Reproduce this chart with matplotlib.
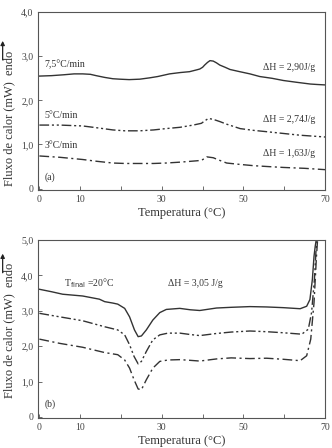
import matplotlib
matplotlib.use('Agg')
import matplotlib.pyplot as plt
from matplotlib.patches import FancyArrowPatch
from matplotlib.ticker import FixedLocator, FixedFormatter

plt.rcParams['font.family'] = ['Liberation Serif', 'DejaVu Serif']

# panel (a): heating-rate curves
ta = [0, 3, 6, 8.5, 10.6, 12.5, 13.9, 16, 18, 19.7, 22, 24.6, 27, 29, 31.9, 34.5, 36.8, 38.5, 39.3,
      40, 40.5, 41.2, 41.8, 42.6, 43.4, 44.2, 45.5, 46.7, 49.1, 51.6, 54, 57, 59.8, 63, 66.4, 68, 70]
a_75 = [2.55, 2.56, 2.58, 2.60, 2.60, 2.59, 2.56, 2.52, 2.49, 2.48, 2.47, 2.48, 2.51, 2.54, 2.60,
        2.63, 2.65, 2.69, 2.71, 2.75, 2.80, 2.86, 2.90, 2.89, 2.85, 2.80, 2.75, 2.70, 2.65, 2.60,
        2.54, 2.50, 2.45, 2.41, 2.37, 2.36, 2.35]
t5 = [0, 5, 10.6, 14, 18, 21, 24.6, 28, 31, 34.5, 37.7, 39.7, 40.6, 41.4, 42.6, 44.2, 45.9, 49.2,
      52.5, 55.7, 59.8, 63.9, 67, 70]
a_5 = [1.44, 1.44, 1.42, 1.38, 1.33, 1.31, 1.31, 1.33, 1.36, 1.39, 1.44, 1.48, 1.54, 1.59, 1.57,
       1.52, 1.46, 1.36, 1.32, 1.29, 1.25, 1.21, 1.19, 1.17]
t3 = [0, 5, 10.6, 14, 18, 21, 24.6, 28, 31, 34.5, 38.5, 39.7, 40.4, 41, 42.6, 44.2, 45.9, 49,
      52.5, 56, 59.8, 65, 70]
a_3 = [0.74, 0.71, 0.66, 0.62, 0.58, 0.57, 0.57, 0.57, 0.58, 0.60, 0.63, 0.64, 0.68, 0.72, 0.70,
       0.64, 0.58, 0.55, 0.52, 0.50, 0.48, 0.46, 0.43]

# panel (b): T_final = 20 C
tb1 = [0, 3, 5.7, 10.6, 14.7, 16, 18, 19.2, 20.9, 22.1, 23.3, 24.2, 25, 26.2, 27.8, 29.5, 31.1,
       34.4, 37, 39.3, 43.4, 47, 51.6, 55.7, 59.8, 63.9, 65.5, 66.3, 66.9, 67.3, 67.6, 67.9]
b1 = [3.61, 3.54, 3.47, 3.42, 3.33, 3.26, 3.22, 3.19, 3.07, 2.83, 2.46, 2.27, 2.29, 2.46, 2.74,
      2.95, 3.04, 3.07, 3.03, 3.01, 3.08, 3.10, 3.12, 3.11, 3.09, 3.06, 3.13, 3.32, 3.89, 4.54,
      4.83, 5.05]
tb2 = [0, 5, 10.6, 16, 19.2, 20.9, 22.1, 23.2, 24.2, 25, 26.2, 27.8, 29.5, 31.5, 34.4, 37, 39.3,
       43.4, 47, 51.6, 55.7, 59.8, 64.3, 65.9, 66.7, 67.4, 67.8, 68.1]
b2 = [2.93, 2.83, 2.72, 2.55, 2.46, 2.32, 2.04, 1.71, 1.50, 1.57, 1.85, 2.18, 2.32, 2.37, 2.37,
      2.33, 2.30, 2.36, 2.40, 2.43, 2.41, 2.38, 2.34, 2.48, 2.95, 3.89, 4.73, 5.05]
tb3 = [0, 5, 10.6, 16, 19.2, 20.9, 22.1, 23.2, 24.2, 25, 26.2, 27.8, 29.5, 31.5, 34.4, 37, 39.3,
       43.4, 47, 51.6, 55.7, 59.8, 63.9, 65.5, 66.5, 67.3, 67.9, 68.2]
b3 = [2.20, 2.08, 1.97, 1.82, 1.76, 1.61, 1.38, 1.05, 0.79, 0.77, 1.05, 1.38, 1.57, 1.61, 1.62,
      1.60, 1.58, 1.64, 1.67, 1.65, 1.66, 1.63, 1.59, 1.73, 2.20, 3.23, 4.54, 5.05]

xticks = [0, 10, 20, 30, 40, 50, 60, 70]
xlabels = ['0', '10', '', '30', '', '50', '', '70']

lc = '#333333'
dd = (0, (7, 2, 1.5, 2, 1.5, 2))
dash_dot = (0, (7, 2.5, 1.5, 2.5))

fig = plt.figure(figsize=(3.32, 4.48), dpi=100)
ax1 = fig.add_axes([0.115, 0.576, 0.864, 0.397])
ax2 = fig.add_axes([0.115, 0.067, 0.864, 0.397])

for ax in (ax1, ax2):
    ax.set_xlim(-0.3, 70)
    ax.xaxis.set_major_locator(FixedLocator(xticks))
    ax.xaxis.set_major_formatter(FixedFormatter(xlabels))
    ax.tick_params(direction='in', length=3, width=0.6, labelsize=7, colors='#555555', labelcolor='#444444')
    for s in ax.spines.values():
        s.set_color('#555555')
        s.set_linewidth(0.8)
    ax.set_xlabel('Temperatura (°C)', fontsize=9, color='#333333', labelpad=2)

ax1.plot(ta, a_75, color=lc, lw=1.0)
ax1.plot(t5, a_5, color=lc, lw=1.0, linestyle=dd)
ax1.plot(t3, a_3, color=lc, lw=1.0, linestyle=dash_dot)
ax1.set_ylim(-0.03, 4.0)
ax1.set_yticks([0, 1, 2, 3, 4])
ax1.set_yticklabels(['0', '1,0', '2,0', '3,0', '4,0'])
ax1.text(1.2, 2.76, '7,5°C/min', fontsize=7, color='#333333')
ax1.text(1.2, 1.61, '5°C/min', fontsize=7, color='#333333')
ax1.text(1.2, 0.92, '3°C/min', fontsize=7, color='#333333')
ax1.text(67.5, 2.69, 'ΔH = 2,90J/g', fontsize=7, color='#333333', ha='right')
ax1.text(67.5, 1.50, 'ΔH = 2,74J/g', fontsize=7, color='#333333', ha='right')
ax1.text(67.5, 0.74, 'ΔH = 1,63J/g', fontsize=7, color='#333333', ha='right')
ax1.text(1.2, 0.19, '(a)', fontsize=7, color='#333333')

ax2.plot(tb1, b1, color=lc, lw=1.0)
ax2.plot(tb2, b2, color=lc, lw=1.0, linestyle=dd)
ax2.plot(tb3, b3, color=lc, lw=1.0, linestyle=dash_dot)
ax2.set_ylim(-0.03, 5.0)
ax2.set_yticks([0, 1, 2, 3, 4, 5])
ax2.set_yticklabels(['0', '1,0', '2,0', '3,0', '4,0', '5,0'])
ax2.text(6.1, 3.7, r'T$_{\rm final}$ =20°C', fontsize=7, color='#333333')
ax2.text(38.2, 3.7, 'ΔH = 3,05 J/g', fontsize=7, color='#333333', ha='center')
ax2.text(1.2, 0.28, '(b)', fontsize=7, color='#333333')

# y labels with endo arrow
for yc, y0, y1 in [(0.735, 0.860, 0.915), (0.262, 0.385, 0.44)]:
    fig.text(0.027, yc, 'Fluxo de calor (mW)  endo', rotation=90, fontsize=9,
             color='#333333', ha='center', va='center')
    fig.add_artist(FancyArrowPatch((0.008, y0), (0.008, y1),
                   transform=fig.transFigure, arrowstyle='-|>', mutation_scale=6,
                   color='#222222', lw=0.9))

fig.savefig('out.png', dpi=100)
